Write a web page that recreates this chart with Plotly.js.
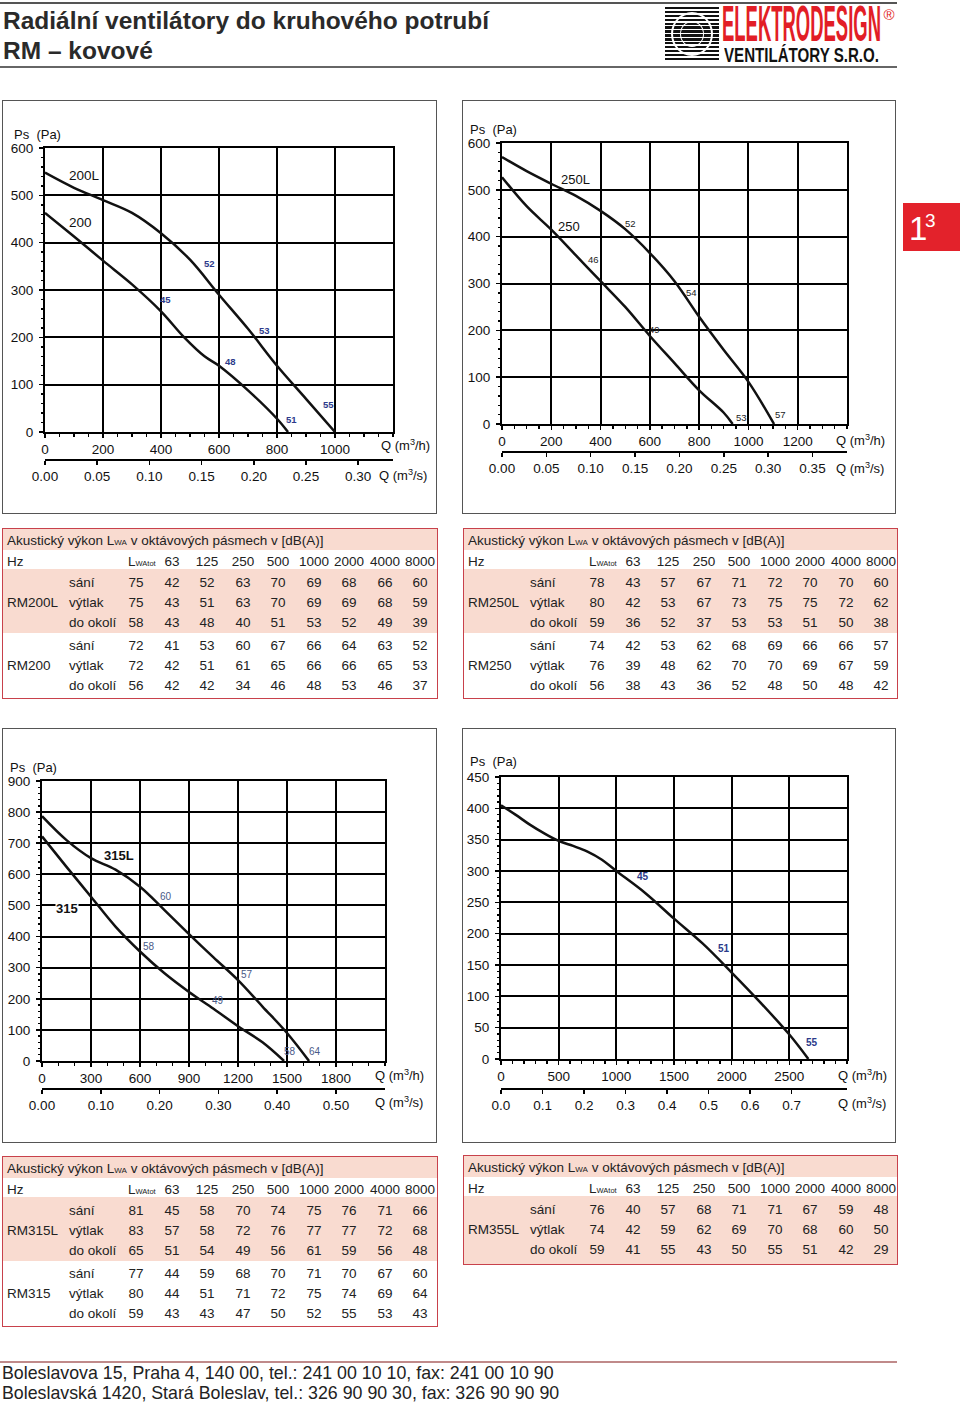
<!DOCTYPE html>
<html><head><meta charset="utf-8">
<script src="https://cdn.plot.ly/plotly-3.0.1.min.js"></script>
<style>
body{margin:0;background:#fff;font-family:"Liberation Sans",Arial,Helvetica,sans-serif;color:#222;}
#page{position:relative;width:960px;height:1403px;overflow:hidden;background:#fff;}
#page div{position:absolute;box-sizing:border-box;}
</style></head>
<body><div id="page"></div>
<script>
// ---------------- DATA ----------------
// Chart 1: RM200L / RM200  (Q m3/h -> Ps Pa)
const q200L  = [0, 100, 200, 300, 400, 500, 600, 700, 800, 900, 1000];
const ps200L = [548, 516, 490, 463, 420, 364, 290, 218, 140, 70, 0];
const q200   = [0, 100, 200, 300, 400, 480, 550, 600, 700, 800, 838];
const ps200  = [463, 413, 362, 312, 255, 200, 160, 140, 88, 28, 0];
// Chart 2: RM250L / RM250
const q250L  = [0, 100, 200, 300, 400, 500, 600, 700, 800, 900, 1000, 1104];
const ps250L = [570, 540, 513, 487, 455, 416, 365, 305, 229, 158, 90, 0];
const q250   = [0, 100, 200, 300, 400, 500, 600, 700, 800, 900, 936];
const ps250  = [527, 465, 415, 360, 305, 250, 188, 130, 72, 24, 0];
// Chart 3: RM315L / RM315
const q315L  = [0, 150, 300, 450, 600, 750, 900, 1050, 1200, 1350, 1500, 1635];
const ps315L = [787, 710, 652, 615, 560, 485, 408, 333, 260, 175, 90, 0];
const q315   = [0, 150, 300, 450, 600, 750, 900, 1050, 1200, 1350, 1482];
const ps315  = [722, 624, 528, 432, 352, 282, 222, 168, 112, 60, 0];
// Chart 4: RM355L
const q355L  = [0, 125, 250, 375, 500, 625, 750, 875, 1000, 1250, 1500, 1750, 2000, 2250, 2500, 2665];
const ps355L = [405, 390, 374, 360, 348, 340, 331, 318, 300, 265, 224, 184, 138, 90, 39, 0];

// Tick labels
const ticksQh1 = [0, 200, 400, 600, 800, 1000];
const ticksQh2 = [0, 200, 400, 600, 800, 1000, 1200];
const ticksQh3 = [0, 300, 600, 900, 1200, 1500, 1800];
const ticksQh4 = [0, 500, 1000, 1500, 2000, 2500];
const ticksPs1 = [0, 100, 200, 300, 400, 500, 600];
const ticksPs3 = [0, 100, 200, 300, 400, 500, 600, 700, 800, 900];
const ticksPs4 = [0, 50, 100, 150, 200, 250, 300, 350, 400, 450];
const ticksQs1 = [0, 0.05, 0.10, 0.15, 0.20, 0.25, 0.30];
const ticksQs2 = [0, 0.05, 0.10, 0.15, 0.20, 0.25, 0.30, 0.35];
const ticksQs3 = [0, 0.10, 0.20, 0.30, 0.40, 0.50];
const ticksQs4 = [0, 0.1, 0.2, 0.3, 0.4, 0.5, 0.6, 0.7];

// Noise labels on curves (text)
const noise1 = ['52', '45', '53', '48', '55', '51'];
const noise2 = ['52', '46', '54', '49', '53', '57'];
const noise3 = ['60', '58', '57', '49', '58', '64'];
const noise4 = ['45', '51', '55'];

// Acoustic tables
const octaveHz = ['63', '125', '250', '500', '1000', '2000', '4000', '8000'];
const rowTypes = ['sání', 'výtlak', 'do okolí'];
const rm200L_sani = [75, 42, 52, 63, 70, 69, 68, 66, 60];
const rm200L_vytlak = [75, 43, 51, 63, 70, 69, 69, 68, 59];
const rm200L_okoli = [58, 43, 48, 40, 51, 53, 52, 49, 39];
const rm200_sani = [72, 41, 53, 60, 67, 66, 64, 63, 52];
const rm200_vytlak = [72, 42, 51, 61, 65, 66, 66, 65, 53];
const rm200_okoli = [56, 42, 42, 34, 46, 48, 53, 46, 37];
const rm250L_sani = [78, 43, 57, 67, 71, 72, 70, 70, 60];
const rm250L_vytlak = [80, 42, 53, 67, 73, 75, 75, 72, 62];
const rm250L_okoli = [59, 36, 52, 37, 53, 53, 51, 50, 38];
const rm250_sani = [74, 42, 53, 62, 68, 69, 66, 66, 57];
const rm250_vytlak = [76, 39, 48, 62, 70, 70, 69, 67, 59];
const rm250_okoli = [56, 38, 43, 36, 52, 48, 50, 48, 42];
const rm315L_sani = [81, 45, 58, 70, 74, 75, 76, 71, 66];
const rm315L_vytlak = [83, 57, 58, 72, 76, 77, 77, 72, 68];
const rm315L_okoli = [65, 51, 54, 49, 56, 61, 59, 56, 48];
const rm315_sani = [77, 44, 59, 68, 70, 71, 70, 67, 60];
const rm315_vytlak = [80, 44, 51, 71, 72, 75, 74, 69, 64];
const rm315_okoli = [59, 43, 43, 47, 50, 52, 55, 53, 43];
const rm355L_sani = [76, 40, 57, 68, 71, 71, 67, 59, 48];
const rm355L_vytlak = [74, 42, 59, 62, 69, 70, 68, 60, 50];
const rm355L_okoli = [59, 41, 55, 43, 50, 55, 51, 42, 29];

// ---------------- LAYOUT / DRAWING ----------------
const FONT = '"Liberation Sans", Arial, Helvetica, sans-serif';
const page = document.getElementById('page');
function el(css, html) {
  const e = document.createElement('div');
  e.style.cssText = css;
  if (html !== undefined) e.innerHTML = html;
  page.appendChild(e);
  return e;
}
function txt(x, yc, html, size, extra, center) {
  const lh = Math.round(size * 1.25);
  return el(`left:${x}px;top:${yc - lh / 2}px;font-size:${size}px;line-height:${lh}px;white-space:nowrap;font-family:${FONT};` +
    (center ? 'transform:translateX(-50%);' : '') + (extra || ''), html);
}
function hline(x1, x2, y, color, w) {
  el(`left:${x1}px;top:${y - w / 2}px;width:${x2 - x1}px;height:${w}px;background:${color};`);
}
function fitText(html, x, capTop, w, capH, color) {
  const fs = 14, L = 0.72;
  const s = el(`left:${x}px;top:0;font-family:${FONT};font-weight:bold;font-size:${fs}px;line-height:${L * fs}px;white-space:nowrap;color:${color};transform-origin:0 0;`, html);
  const nat = s.getBoundingClientRect().width;
  const sx = w / nat, sy = capH / (0.716 * fs);
  const capOff = ((L - 1.117) / 2 + 0.905 - 0.716) * fs;
  s.style.top = (capTop - capOff * sy) + 'px';
  s.style.transform = `scale(${sx},${sy})`;
}

// Header
hline(0, 897, 3, '#555', 1.5);
hline(0, 897, 67, '#666', 1.5);
txt(3, 20, 'Radiální ventilátory do kruhového potrubí', 24.5, 'font-weight:bold;color:#2a2a2a;');
txt(3, 50, 'RM – kovové', 24.5, 'font-weight:bold;color:#2a2a2a;');
// Logo
el('left:665px;top:7px;width:54px;height:55px;background:repeating-linear-gradient(to bottom,#111 0px,#111 2.4px,#fff 2.4px,#fff 3.9px);');
el('left:671px;top:12px;width:42px;height:44px;border-radius:50%;border:2px solid #fff;');
el('left:680px;top:21px;width:24px;height:26px;border-radius:50%;border:1.5px solid #fff;');
fitText('ELEKTRODESIGN', 722, 5, 159, 36, '#e21e26');
fitText('VENTILÁTORY S.R.O.', 724, 48, 155, 14, '#111');
txt(889, 14, '®', 15, 'color:#e21e26;', true);
// Red page tab
el('left:903px;top:203px;width:57px;height:48px;background:#e3222b;');
txt(909, 228, '1', 33, 'color:#fff;');
txt(925, 221, '3', 19, 'color:#fff;');

// Chart boxes
[[2, 100, 437, 514], [462, 100, 896, 514], [2, 728, 437, 1143], [462, 728, 896, 1143]].forEach(b => {
  el(`left:${b[0]}px;top:${b[1]}px;width:${b[2] - b[0]}px;height:${b[3] - b[1]}px;border:1.5px solid #555;z-index:5;pointer-events:none;`);
});

function buildChart(c) {
  const div = el(`left:${c.left}px;top:${c.top}px;width:${c.width}px;height:${c.height}px;`);
  const pw = c.plotR - c.plotL, ph = c.secY - c.plotT;
  const px2x = p => (p - c.plotL) / pw, py2y = p => (c.secY - p) / ph;
  const traces = c.curves.map(cv => ({
    x: cv.x, y: cv.y, type: 'scatter', mode: 'lines',
    line: {color: '#111', width: 2.5, shape: 'spline', smoothing: 1.0},
    hoverinfo: 'skip', showlegend: false
  }));
  traces.push({x: [0, c.xmax / 3600], y: [null, null], xaxis: 'x2', yaxis: 'y', type: 'scatter', mode: 'lines', showlegend: false, hoverinfo: 'skip'});
  const ann = [];
  c.names.forEach(n => ann.push({xref: 'x', yref: 'y', x: n.x, y: n.y, text: n.t, showarrow: false,
    font: {size: n.size || 13.5, color: '#111', family: FONT}, bgcolor: n.bg || 'rgba(0,0,0,0)', borderpad: 0}));
  c.noise.forEach((t, i) => ann.push({xref: 'x', yref: 'y', x: c.noisePos[i][0], y: c.noisePos[i][1],
    text: c.noiseBold ? '<b>' + t + '</b>' : t, showarrow: false,
    font: {size: c.noiseSize, color: c.noiseColor, family: FONT}}));
  ann.push({xref: 'paper', yref: 'paper', x: px2x(c.ps[0]), y: py2y(c.ps[1]), text: 'Ps  (Pa)', xanchor: 'left', yanchor: 'middle', showarrow: false, font: {size: 13, color: '#111', family: FONT}});
  ann.push({xref: 'paper', yref: 'paper', x: px2x(c.qh[0]), y: py2y(c.qh[1]), text: 'Q (m<sup>3</sup>/h)', xanchor: 'center', yanchor: 'middle', showarrow: false, font: {size: 13, color: '#111', family: FONT}});
  ann.push({xref: 'paper', yref: 'paper', x: px2x(c.qs[0]), y: py2y(c.qs[1]), text: 'Q (m<sup>3</sup>/s)', xanchor: 'center', yanchor: 'middle', showarrow: false, font: {size: 13, color: '#111', family: FONT}});
  const axBase = {
    showgrid: true, gridcolor: '#000', gridwidth: 2, showline: true, linecolor: '#000', linewidth: 2,
    mirror: true, ticks: 'outside', ticklen: 4, tickwidth: 1.5, tickcolor: '#000', zeroline: false,
    fixedrange: true, tickfont: {size: 13.5, color: '#111', family: FONT}, tickmode: 'array'
  };
  const layout = {
    width: c.width, height: c.height,
    margin: {l: c.plotL - c.left, r: c.left + c.width - c.plotR, t: c.plotT - c.top, b: c.top + c.height - c.secY, pad: 0, autoexpand: false},
    paper_bgcolor: 'rgba(0,0,0,0)', plot_bgcolor: '#fff', showlegend: false,
    font: {family: FONT, size: 13.5, color: '#111'},
    xaxis: Object.assign({}, axBase, {
      range: [0, c.xmax], tickvals: c.xticks, ticktext: c.xticks.map(String), anchor: 'y',
      minor: {tickmode: 'linear', tick0: 0, dtick: c.xminor, ticks: 'outside', ticklen: 2.5, tickwidth: 1.4, tickcolor: '#000', showgrid: false}
    }),
    yaxis: Object.assign({}, axBase, {
      domain: [(c.secY - c.plotB) / ph, 1], range: [0, c.ymax], tickvals: c.yticks, ticktext: c.yticks.map(String),
      ticklabelstandoff: 3,
      minor: {tickmode: 'linear', tick0: 0, dtick: c.yminor, ticks: 'outside', ticklen: 2.5, tickwidth: 1.4, tickcolor: '#000', showgrid: false}
    }),
    xaxis2: {
      overlaying: 'x', anchor: 'free', position: 0, side: 'bottom', range: [0, c.xmax / 3600],
      tickmode: 'array', tickvals: c.sec, ticktext: c.sec.map(v => v.toFixed(c.secDec)),
      showgrid: false, showline: true, linecolor: '#000', linewidth: 2, ticks: 'outside', ticklen: 3.5,
      tickwidth: 1.5, tickcolor: '#000', zeroline: false, fixedrange: true,
      tickfont: {size: 13.5, color: '#111', family: FONT}
    },
    annotations: ann
  };
  Plotly.newPlot(div, traces, layout, {staticPlot: true, displayModeBar: false});
}

buildChart({
  left: 0, top: 100, width: 437, height: 414, plotL: 45, plotR: 393, plotT: 148, plotB: 432, secY: 460,
  xmax: 1200, ymax: 600, xticks: ticksQh1, xminor: 50, yticks: ticksPs1, yminor: 20, sec: ticksQs1, secDec: 2,
  curves: [{x: q200L, y: ps200L}, {x: q200, y: ps200}],
  names: [{t: '200L', x: 137, y: 542}, {t: '200', x: 122, y: 443}],
  noise: noise1, noisePos: [[568, 356], [415, 280], [757, 215], [641, 148], [977, 58], [850, 26]],
  noiseBold: true, noiseSize: 9.5, noiseColor: '#2c3a8a',
  ps: [12, 135], qh: [405, 445], qs: [403, 475]
});
buildChart({
  left: 460, top: 100, width: 436, height: 414, plotL: 502, plotR: 847, plotT: 143, plotB: 424, secY: 452,
  xmax: 1400, ymax: 600, xticks: ticksQh2, xminor: 50, yticks: ticksPs1, yminor: 20, sec: ticksQs2, secDec: 2,
  curves: [{x: q250L, y: ps250L}, {x: q250, y: ps250}],
  names: [{t: '250L', x: 297, y: 522, size: 13}, {t: '250', x: 270, y: 422, size: 13}],
  noise: noise2, noisePos: [[520, 429], [372, 351], [770, 281], [618, 202], [973, 14], [1131, 21]],
  noiseBold: false, noiseSize: 9.5, noiseColor: '#222',
  ps: [468, 130], qh: [860, 440], qs: [860, 468]
});
buildChart({
  left: 0, top: 728, width: 437, height: 415, plotL: 42, plotR: 385, plotT: 781, plotB: 1061, secY: 1089,
  xmax: 2100, ymax: 900, xticks: ticksQh3, xminor: 100, yticks: ticksPs3, yminor: 20, sec: ticksQs3, secDec: 2,
  curves: [{x: q315L, y: ps315L}, {x: q315, y: ps315}],
  names: [{t: '<b>315L</b>', x: 469, y: 659, size: 13}, {t: '<b>315</b>', x: 153, y: 490, size: 13, bg: '#fff'}],
  noise: noise3, noisePos: [[759, 530], [653, 369], [1255, 279], [1076, 193], [1516, 29], [1673, 29]],
  noiseBold: false, noiseSize: 10, noiseColor: '#4a5a88',
  ps: [8, 767], qh: [399, 1075], qs: [399, 1102]
});
buildChart({
  left: 460, top: 728, width: 436, height: 415, plotL: 501, plotR: 847, plotT: 777, plotB: 1059, secY: 1089,
  xmax: 3000, ymax: 450, xticks: ticksQh4, xminor: 100, yticks: ticksPs4, yminor: 10, sec: ticksQs4, secDec: 1,
  curves: [{x: q355L, y: ps355L}],
  names: [],
  noise: noise4, noisePos: [[1228, 291], [1934, 177], [2694, 27]],
  noiseBold: true, noiseSize: 10, noiseColor: '#2c3a8a',
  ps: [468, 762], qh: [862, 1075], qs: [862, 1103]
});

// Tables
const PINK = '#f9dbd0', RED = '#c8414b';
const VALX = [134, 170, 205, 241, 276, 312, 347, 383, 418];
function buildTable(t) {
  el(`left:${t.left}px;top:${t.top}px;width:${t.width}px;height:${t.height}px;background:#fff;`);
  el(`left:${t.left}px;top:${t.top}px;width:${t.width}px;height:22px;background:${PINK};`);
  t.groups.forEach(g => {
    if (g.pink) el(`left:${t.left}px;top:${t.top + g.y0}px;width:${t.width}px;height:${g.y1 - g.y0}px;background:${PINK};`);
  });
  el(`left:${t.left}px;top:${t.top}px;width:${t.width}px;height:${t.height}px;border:1.5px solid ${RED};`);
  const X = t.left, Y = t.top, fs = 13.5;
  txt(X + 5, Y + 12, 'Akustický výkon L<span style="font-size:8px">WA</span> v oktávových pásmech v [dB(A)]', fs);
  txt(X + 5, Y + 33, 'Hz', fs);
  txt(X + 126, Y + 33, 'L<span style="font-size:7.5px">WAtot</span>', fs);
  octaveHz.forEach((h, j) => txt(X + VALX[j + 1], Y + 33, h, fs, '', true));
  t.groups.forEach(g => {
    txt(X + 5, Y + g.rows[1], g.model, fs);
    g.data.forEach((arr, r) => {
      txt(X + 67, Y + g.rows[r], rowTypes[r], fs);
      arr.forEach((v, j) => txt(X + VALX[j], Y + g.rows[r], String(v), fs, '', true));
    });
  });
}
buildTable({left: 2, top: 528, width: 436, height: 171, groups: [
  {model: 'RM200L', pink: true, y0: 41, y1: 105, rows: [54, 74, 94], data: [rm200L_sani, rm200L_vytlak, rm200L_okoli]},
  {model: 'RM200', pink: false, y0: 105, y1: 171, rows: [117, 137, 157], data: [rm200_sani, rm200_vytlak, rm200_okoli]}]});
buildTable({left: 463, top: 528, width: 435, height: 171, groups: [
  {model: 'RM250L', pink: true, y0: 41, y1: 105, rows: [54, 74, 94], data: [rm250L_sani, rm250L_vytlak, rm250L_okoli]},
  {model: 'RM250', pink: false, y0: 105, y1: 171, rows: [117, 137, 157], data: [rm250_sani, rm250_vytlak, rm250_okoli]}]});
buildTable({left: 2, top: 1156, width: 436, height: 171, groups: [
  {model: 'RM315L', pink: true, y0: 41, y1: 105, rows: [54, 74, 94], data: [rm315L_sani, rm315L_vytlak, rm315L_okoli]},
  {model: 'RM315', pink: false, y0: 105, y1: 171, rows: [117, 137, 157], data: [rm315_sani, rm315_vytlak, rm315_okoli]}]});
buildTable({left: 463, top: 1155, width: 435, height: 110, groups: [
  {model: 'RM355L', pink: true, y0: 41, y1: 110, rows: [54, 74, 94], data: [rm355L_sani, rm355L_vytlak, rm355L_okoli]}]});

// Footer
hline(0, 897, 1362, '#c08a8a', 1.5);
txt(2, 1373, 'Boleslavova 15, Praha 4, 140 00, tel.: 241 00 10 10, fax: 241 00 10 90', 17.8, 'color:#222;');
txt(2, 1393, 'Boleslavská 1420, Stará Boleslav, tel.: 326 90 90 30, fax: 326 90 90 90', 17.8, 'color:#222;');
</script>
</body></html>
